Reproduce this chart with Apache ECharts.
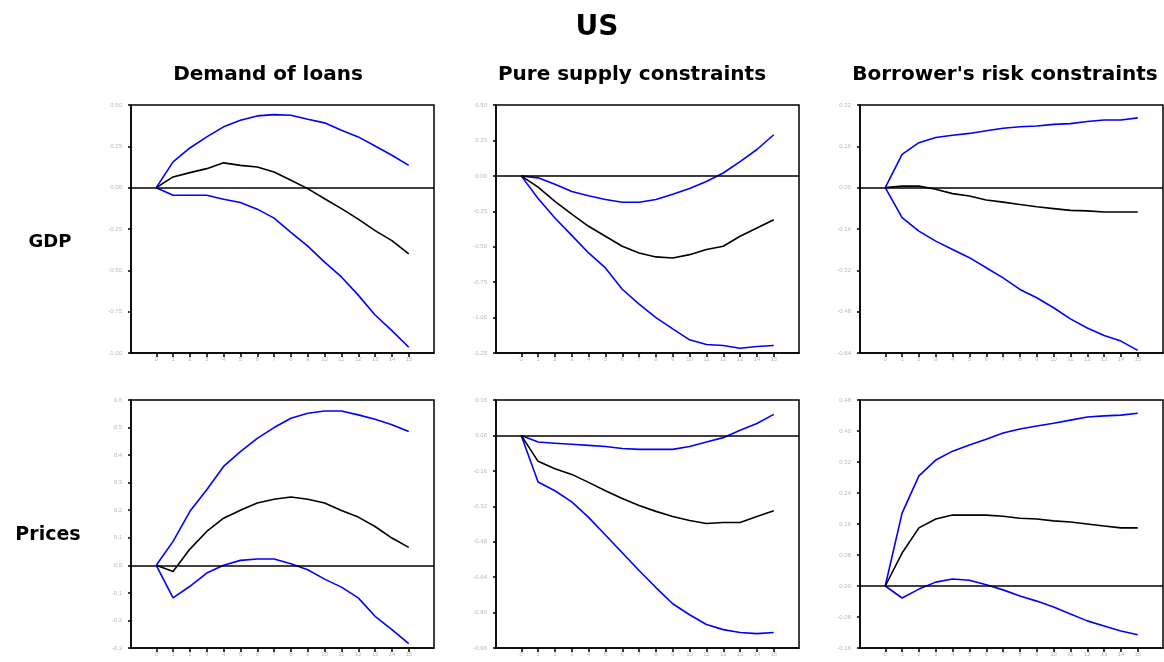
<!DOCTYPE html>
<html>
<head>
<meta charset="utf-8">
<title>US</title>
<script src="https://cdn.jsdelivr.net/npm/echarts@6/dist/echarts.min.js"></script>
<style>
  html, body { margin: 0; padding: 0; background: #fff; }
  #chart { width: 1164px; height: 662px; }
</style>
</head>
<body>
<div id="chart"></div>
<script>
// Impulse-response horizons (quarters) and their tick labels
const horizons = [0, 1, 2, 3, 4, 5, 6, 7, 8, 9, 10, 11, 12, 13, 14, 15];
const horizonLabels = ['0', '1', '2', '3', '4', '5', '6', '7', '8', '9', '10', '11', '12', '13', '14', '15'];

const title = 'US';
const columnTitles = ['Demand of loans', 'Pure supply constraints', "Borrower's risk constraints"];
const rowTitles = ['GDP', 'Prices'];

// GDP responses
const gdpDemandMid = [0, 0.065, 0.091, 0.115, 0.15, 0.135, 0.125, 0.095, 0.045, -0.006, -0.067, -0.127, -0.19, -0.26, -0.32, -0.40];
const gdpDemandUp  = [0, 0.156, 0.24, 0.307, 0.368, 0.408, 0.434, 0.442, 0.438, 0.414, 0.392, 0.347, 0.307, 0.252, 0.196, 0.135];
const gdpDemandLo  = [0, -0.046, -0.046, -0.046, -0.07, -0.09, -0.13, -0.184, -0.27, -0.354, -0.45, -0.54, -0.65, -0.77, -0.865, -0.965];

const gdpSupplyMid = [0, -0.08, -0.18, -0.27, -0.356, -0.426, -0.497, -0.544, -0.572, -0.58, -0.556, -0.52, -0.497, -0.426, -0.368, -0.31];
const gdpSupplyUp  = [0, -0.014, -0.06, -0.11, -0.14, -0.167, -0.186, -0.186, -0.167, -0.13, -0.09, -0.04, 0.02, 0.10, 0.186, 0.29];
const gdpSupplyLo  = [0, -0.16, -0.297, -0.42, -0.544, -0.65, -0.80, -0.905, -1.0, -1.08, -1.157, -1.19, -1.197, -1.216, -1.204, -1.197];

const gdpRiskMid = [0, 0.006, 0.006, -0.006, -0.023, -0.032, -0.048, -0.056, -0.065, -0.074, -0.081, -0.088, -0.09, -0.094, -0.094, -0.094];
const gdpRiskUp  = [0, 0.129, 0.174, 0.194, 0.203, 0.21, 0.22, 0.23, 0.236, 0.239, 0.245, 0.248, 0.256, 0.262, 0.262, 0.27];
const gdpRiskLo  = [0, -0.116, -0.168, -0.207, -0.239, -0.271, -0.31, -0.349, -0.394, -0.426, -0.465, -0.508, -0.543, -0.572, -0.594, -0.63];

// Price responses
const priceDemandMid = [0, -0.022, 0.059, 0.123, 0.171, 0.20, 0.226, 0.24, 0.248, 0.24, 0.226, 0.199, 0.175, 0.141, 0.099, 0.065];
const priceDemandUp  = [0, 0.087, 0.196, 0.274, 0.359, 0.413, 0.461, 0.50, 0.534, 0.552, 0.56, 0.56, 0.546, 0.53, 0.51, 0.486];
const priceDemandLo  = [0, -0.118, -0.076, -0.028, 0.0, 0.018, 0.023, 0.023, 0.006, -0.016, -0.05, -0.079, -0.118, -0.185, -0.233, -0.284];

const priceSupplyMid = [0, -0.117, -0.15, -0.176, -0.212, -0.25, -0.285, -0.316, -0.343, -0.366, -0.384, -0.398, -0.393, -0.393, -0.366, -0.34];
const priceSupplyUp  = [0, -0.03, -0.035, -0.04, -0.045, -0.05, -0.059, -0.063, -0.063, -0.063, -0.05, -0.03, -0.01, 0.023, 0.054, 0.095];
const priceSupplyLo  = [0, -0.21, -0.25, -0.30, -0.37, -0.45, -0.53, -0.61, -0.687, -0.76, -0.81, -0.854, -0.877, -0.89, -0.895, -0.89];

const priceRiskMid = [0, 0.085, 0.15, 0.173, 0.183, 0.183, 0.183, 0.18, 0.175, 0.173, 0.168, 0.165, 0.16, 0.155, 0.15, 0.15];
const priceRiskUp  = [0, 0.188, 0.284, 0.325, 0.348, 0.364, 0.379, 0.395, 0.405, 0.413, 0.42, 0.428, 0.436, 0.439, 0.441, 0.446];
const priceRiskLo  = [0, -0.031, -0.008, 0.01, 0.018, 0.015, 0.003, -0.01, -0.026, -0.039, -0.054, -0.072, -0.09, -0.103, -0.116, -0.126];

// Y-axis scales: [min, max, interval, decimals]
const gdpScales   = [[-1.0, 0.5, 0.25, 2], [-1.25, 0.5, 0.25, 2], [-0.64, 0.32, 0.16, 2]];
const priceScales = [[-0.3, 0.6, 0.1, 1], [-0.96, 0.16, 0.16, 2], [-0.16, 0.48, 0.08, 2]];

const panels = [
  [gdpDemandMid, gdpDemandUp, gdpDemandLo],
  [gdpSupplyMid, gdpSupplyUp, gdpSupplyLo],
  [gdpRiskMid, gdpRiskUp, gdpRiskLo],
  [priceDemandMid, priceDemandUp, priceDemandLo],
  [priceSupplyMid, priceSupplyUp, priceSupplyLo],
  [priceRiskMid, priceRiskUp, priceRiskLo]
];
const scales = gdpScales.concat(priceScales);

const gridLefts = [131, 496, 860];
const gridTops = [105, 400];
const gridW = 303, gridH = 248;

const chart = echarts.init(document.getElementById('chart'), null, { renderer: 'canvas' });

const grids = [], xAxes = [], yAxes = [], series = [];
panels.forEach((p, i) => {
  const col = i % 3, row = Math.floor(i / 3);
  const [mn, mx, step, dec] = scales[i];
  grids.push({
    left: gridLefts[col], top: gridTops[row], width: gridW, height: gridH,
    show: true, borderColor: '#000', borderWidth: 1.5, containLabel: false
  });
  xAxes.push({
    type: 'value', gridIndex: i, min: -1.5, max: 16.5,
    splitLine: { show: false },
    axisLine: { show: true, onZero: false, lineStyle: { color: '#000', width: 1.5 } },
    axisTick: { show: true, customValues: horizons, length: 4, lineStyle: { color: '#000', width: 1.5 } },
    axisLabel: {
      customValues: horizons, fontSize: 6, color: '#b8b8b8', margin: 3,
      fontFamily: 'Liberation Sans',
      formatter: v => horizonLabels[horizons.indexOf(Math.round(v))] || ''
    }
  });
  yAxes.push({
    type: 'value', gridIndex: i, min: mn, max: mx, interval: step,
    splitLine: { show: false },
    axisLine: { show: true, onZero: false, lineStyle: { color: '#000', width: 1.5 } },
    axisTick: { show: true, length: 3, lineStyle: { color: '#000', width: 1.5 } },
    axisLabel: {
      fontSize: 6, color: '#b8b8b8', margin: 9, fontFamily: 'Liberation Sans',
      formatter: v => (Math.abs(v) < 1e-9 ? 0 : v).toFixed(dec)
    }
  });
  const [mid, up, lo] = p;
  const toPts = arr => horizons.map((h, k) => [h, arr[k]]);
  const common = { type: 'line', xAxisIndex: i, yAxisIndex: i, showSymbol: false, symbol: 'none', animation: false, silent: true };
  series.push(Object.assign({}, common, {
    data: toPts(up), lineStyle: { color: '#0000ff', width: 1.6 }, z: 3
  }));
  series.push(Object.assign({}, common, {
    data: toPts(lo), lineStyle: { color: '#0000ff', width: 1.6 }, z: 3
  }));
  series.push(Object.assign({}, common, {
    data: toPts(mid), lineStyle: { color: '#000', width: 1.6 }, z: 4,
    markLine: {
      silent: true, symbol: ['none', 'none'], animation: false,
      label: { show: false },
      lineStyle: { color: '#000', type: 'solid', width: 1.5 },
      data: [{ yAxis: 0 }]
    }
  }));
});

const textFont = 'DejaVu Sans';
function label(text, x, y, size) {
  return {
    type: 'text', x: x, y: y,
    style: {
      text: text, font: 'bold ' + size + 'px ' + textFont, fill: '#000',
      align: 'center', verticalAlign: 'middle', textAlign: 'center', textVerticalAlign: 'middle'
    }
  };
}
const graphics = [
  label(title, 597, 28, 28),
  label(columnTitles[0], 268, 75, 20),
  label(columnTitles[1], 632, 75, 20),
  label(columnTitles[2], 1005, 75, 20),
  label(rowTitles[0], 50, 242, 18),
  label(rowTitles[1], 48, 535, 19)
];

chart.setOption({
  backgroundColor: '#fff',
  animation: false,
  grid: grids,
  xAxis: xAxes,
  yAxis: yAxes,
  series: series,
  graphic: graphics
});
</script>
</body>
</html>
